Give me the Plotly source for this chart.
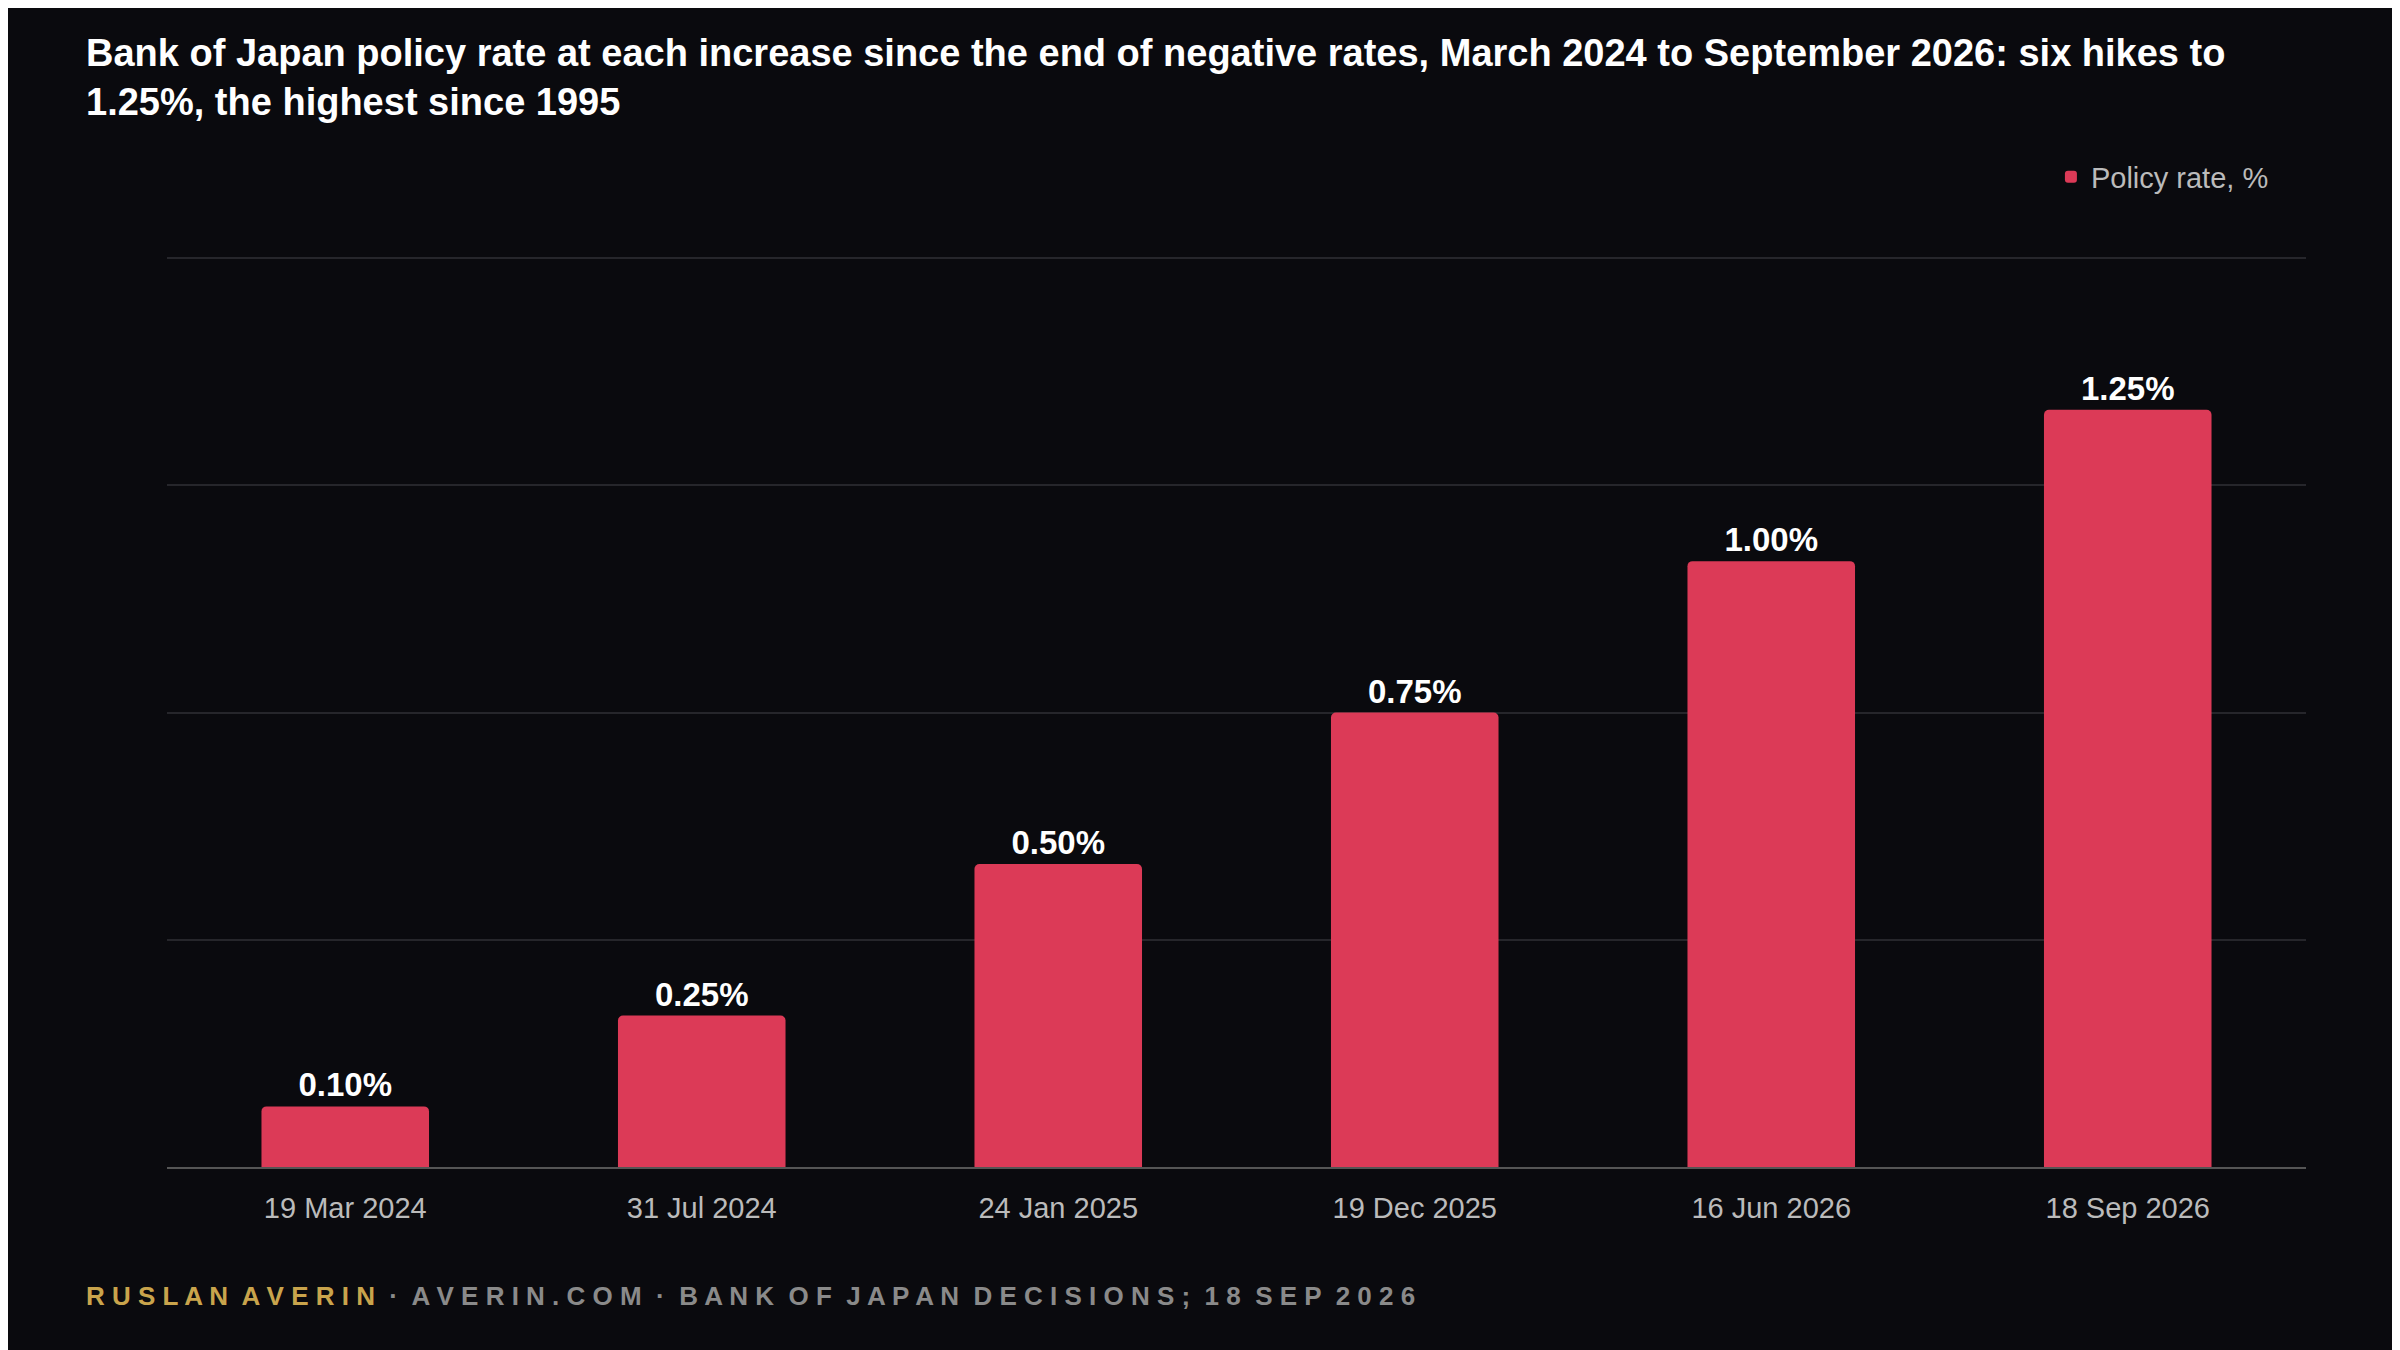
import plotly.graph_objects as go

dates = ['19 Mar 2024', '31 Jul 2024', '24 Jan 2025', '19 Dec 2025', '16 Jun 2026', '18 Sep 2026']
rates = [0.10, 0.25, 0.50, 0.75, 1.00, 1.25]
labels = ['0.10%', '0.25%', '0.50%', '0.75%', '1.00%', '1.25%']

BG = '#0a0a0e'
BAR = '#dc3a57'

fig = go.Figure()
fig.add_trace(go.Bar(
    x=dates, y=rates, name='Policy rate, %',
    marker=dict(color=BAR, cornerradius=5, line=dict(width=0)),
    text=labels, textposition='outside', cliponaxis=False,
    textfont=dict(color='#ffffff', size=33, family='Liberation Sans, Arial, sans-serif', weight='bold'),
))

fig.update_layout(
    width=2400, height=1350,
    paper_bgcolor=BG, plot_bgcolor=BG,
    font=dict(family='Liberation Sans, Arial, sans-serif', color='#bbbbbb'),
    margin=dict(l=159, r=102, t=249, b=191),
    bargap=0.53,
    showlegend=True,
    legend=dict(x=0.985, xanchor='right', y=1.06, yanchor='bottom', orientation='h',
                font=dict(size=29, color='#bbbbbb'), bgcolor='rgba(0,0,0,0)'),
    title=dict(
        text='Bank of Japan policy rate at each increase since the end of negative rates, March 2024 to September 2026: six hikes to<br>1.25%, the highest since 1995',
        x=78 / 2400, xref='container', xanchor='left', y=1 - 58 / 1350, yref='container', yanchor='top',
        font=dict(size=38, color='#ffffff', weight='bold'),
    ),
    xaxis=dict(showgrid=False, showline=True, linecolor='#555555', linewidth=2,
               tickfont=dict(size=29, color='#bbbbbb'), ticks='', ticklabelstandoff=14),
    yaxis=dict(range=[0, 1.502], tickvals=[0.375, 0.75, 1.125, 1.5], showticklabels=False,
               gridcolor='#26262b', gridwidth=1.5, zeroline=False),
)

fig.add_annotation(
    xref='paper', yref='paper', x=(76 - 159) / (2400 - 159 - 102), y=-0.142, xanchor='left', yanchor='middle',
    showarrow=False,
    text="<span style='color:#c9a44c'><b>R U S L A N  A V E R I N</b></span>"
         "<b>  ·  A V E R I N . C O M  ·  B A N K  O F  J A P A N  D E C I S I O N S ;  1 8  S E P  2 0 2 6</b>",
    font=dict(size=26, color='#8a8a8a'),
)

fig.write_html('out.html')
